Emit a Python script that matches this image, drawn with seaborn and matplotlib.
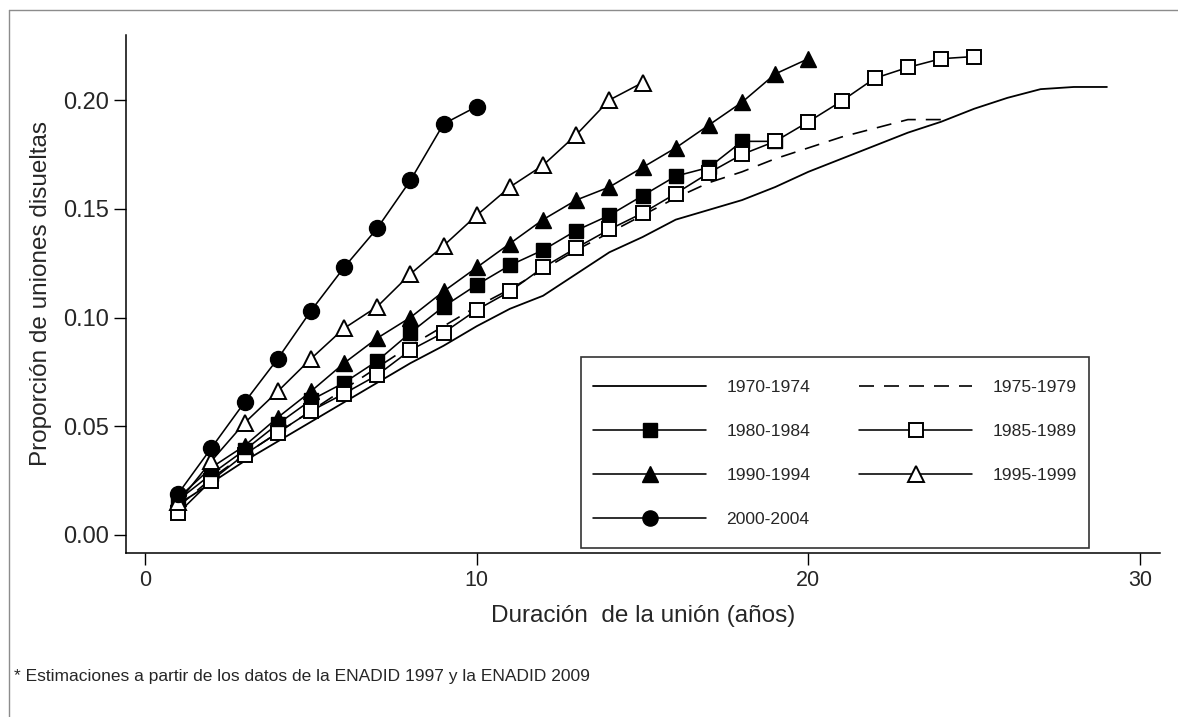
import matplotlib
matplotlib.use("Agg")
import numpy as np
import matplotlib.pyplot as plt
import seaborn as sns
import pandas as pd
from matplotlib.lines import Line2D
from matplotlib.legend_handler import HandlerLine2D

# ---- data ----
cohorts = ["1970-1974", "1975-1979", "1980-1984", "1985-1989",
           "1990-1994", "1995-1999", "2000-2004"]
c1970 = [0.014, 0.024, 0.034, 0.043, 0.052, 0.061, 0.070, 0.079, 0.087, 0.096,
         0.104, 0.110, 0.120, 0.130, 0.137, 0.145, 0.1495, 0.154, 0.160, 0.167,
         0.173, 0.179, 0.185, 0.190, 0.196, 0.201, 0.205, 0.206, 0.206]
c1975 = [0.013, 0.026, 0.037, 0.047, 0.057, 0.067, 0.077, 0.087, 0.096, 0.105,
         0.113, 0.122, 0.131, 0.139, 0.147, 0.155, 0.162, 0.167, 0.173, 0.178,
         0.183, 0.187, 0.191, 0.191]
c1980 = [0.016, 0.028, 0.039, 0.051, 0.062, 0.070, 0.080, 0.093, 0.105, 0.115,
         0.124, 0.131, 0.140, 0.147, 0.156, 0.165, 0.169, 0.181, 0.181]
c1985 = [0.010, 0.025, 0.037, 0.047, 0.057, 0.065, 0.0735, 0.085, 0.093, 0.1035,
         0.112, 0.123, 0.132, 0.1405, 0.148, 0.157, 0.1665, 0.175, 0.181, 0.190,
         0.1995, 0.210, 0.215, 0.219, 0.220]
c1990 = [0.017, 0.031, 0.041, 0.054, 0.066, 0.079, 0.0905, 0.100, 0.112, 0.123,
         0.134, 0.145, 0.154, 0.160, 0.169, 0.178, 0.1885, 0.199, 0.212, 0.219]
c1995 = [0.015, 0.034, 0.0515, 0.066, 0.081, 0.095, 0.105, 0.120, 0.133, 0.147,
         0.160, 0.170, 0.184, 0.200, 0.208]
c2000 = [0.019, 0.040, 0.061, 0.081, 0.103, 0.123, 0.141, 0.163, 0.189, 0.197]
series = [c1970, c1975, c1980, c1985, c1990, c1995, c2000]

x_ticks = [0, 10, 20, 30]
y_ticks = [0.00, 0.05, 0.10, 0.15, 0.20]
x_title = "Duración  de la unión (años)"
y_title = "Proporción de uniones disueltas"
footnote = "* Estimaciones a partir de los datos de la ENADID 1997 y la ENADID 2009"

# ---- style ----
sns.set_style("white")
plt.rcParams["font.family"] = ["Liberation Sans", "DejaVu Sans"]

W, H = 1178, 717
fig = plt.figure(figsize=(W / 100, H / 100), dpi=100)
fig.patch.set_facecolor("white")

# outer thin frame (top and left visible)
fig.add_artist(Line2D([9 / W, 1.0], [1 - 10 / H, 1 - 10 / H], color="#8c8c8c", lw=1.0))
fig.add_artist(Line2D([9 / W, 9 / W], [0.0, 1 - 10 / H], color="#8c8c8c", lw=1.0))

ax = fig.add_axes([126 / W, 1 - 553 / H, (1160 - 126) / W, (553 - 35) / H])

styles = [
    dict(marker=None, linestyle="-", lw=1.3),
    dict(marker=None, linestyle=(0, (9, 6)), lw=1.2),
    dict(marker="s", mfc="black", ms=10.5),
    dict(marker="s", mfc="white", ms=10.5, mew=1.4),
    dict(marker="^", mfc="black", ms=11.5),
    dict(marker="^", mfc="white", ms=11.5, mew=1.4),
    dict(marker="o", mfc="black", ms=11.5),
]

for name, vals, st in zip(cohorts, series, styles):
    df = pd.DataFrame({"t": list(range(1, len(vals) + 1)), "p": vals})
    kw = dict(color="black", linewidth=st.get("lw", 1.15), label=name)
    if st["marker"] is not None:
        kw.update(marker=st["marker"], markersize=st["ms"],
                  markerfacecolor=st["mfc"], markeredgecolor="black",
                  markeredgewidth=st.get("mew", 1.0))
    sns.lineplot(data=df, x="t", y="p", ax=ax,
                 linestyle=st["linestyle"] if st["marker"] is None else "-", **kw)

ax.set_xlim(-0.573, 30.6)
ax.set_ylim(-0.00828, 0.2299)
ax.set_xticks(x_ticks)
ax.set_yticks(y_ticks)
ax.set_xticklabels([str(v) for v in x_ticks])
ax.set_yticklabels([f"{v:.2f}" for v in y_ticks])

for s in ["top", "right"]:
    ax.spines[s].set_visible(False)
for s in ["left", "bottom"]:
    ax.spines[s].set_color("black")
    ax.spines[s].set_linewidth(1.1)

ax.tick_params(axis="both", which="major", direction="out", length=8.5, width=1.0,
               color="black", labelsize=15.5, pad=4, left=True, bottom=True)
ax.tick_params(axis="y", labelsize=17)
ax.set_xlabel(x_title, fontsize=17.5, labelpad=10)
ax.set_ylabel(y_title, fontsize=17.5, labelpad=8)


class ShiftedLineHandler(HandlerLine2D):
    """Line handler whose sample is lowered to sit level with its label."""
    def __init__(self, dy=0.0, **kw):
        super().__init__(**kw)
        self.dy = dy

    def create_artists(self, legend, orig_handle, xdescent, ydescent, width,
                       height, fontsize, trans):
        arts = super().create_artists(legend, orig_handle, xdescent, ydescent,
                                      width, height, fontsize, trans)
        for a in arts:
            a.set_ydata(np.asarray(a.get_ydata(), dtype=float) - self.dy)
        return arts


# legend in Stata order: two columns
handles, labels = ax.get_legend_handles_labels()
hmap = dict(zip(labels, handles))
order = ["1970-1974", "1980-1984", "1990-1994", "2000-2004",
         "1975-1979", "1985-1989", "1995-1999"]
shift = ShiftedLineHandler(dy=4.3)
leg = ax.legend([hmap[k] for k in order], order, ncol=2, loc="upper left",
                bbox_to_anchor=((581 - 126) / 1034, (553 - 357) / 518),
                borderaxespad=0, frameon=True, fancybox=False, shadow=False,
                fontsize=12.6, handlelength=6.45, handletextpad=1.15,
                handleheight=2.64, columnspacing=2.8, labelspacing=0.55,
                borderpad=0.7, numpoints=1, markerscale=0.95,
                handler_map={Line2D: shift})
leg.get_frame().set_edgecolor("black")
leg.get_frame().set_linewidth(1.2)

fig.text(14 / W, 1 - 677 / H, footnote, fontsize=12.5, ha="left", va="center")

fig.savefig("out.png", dpi=100)
